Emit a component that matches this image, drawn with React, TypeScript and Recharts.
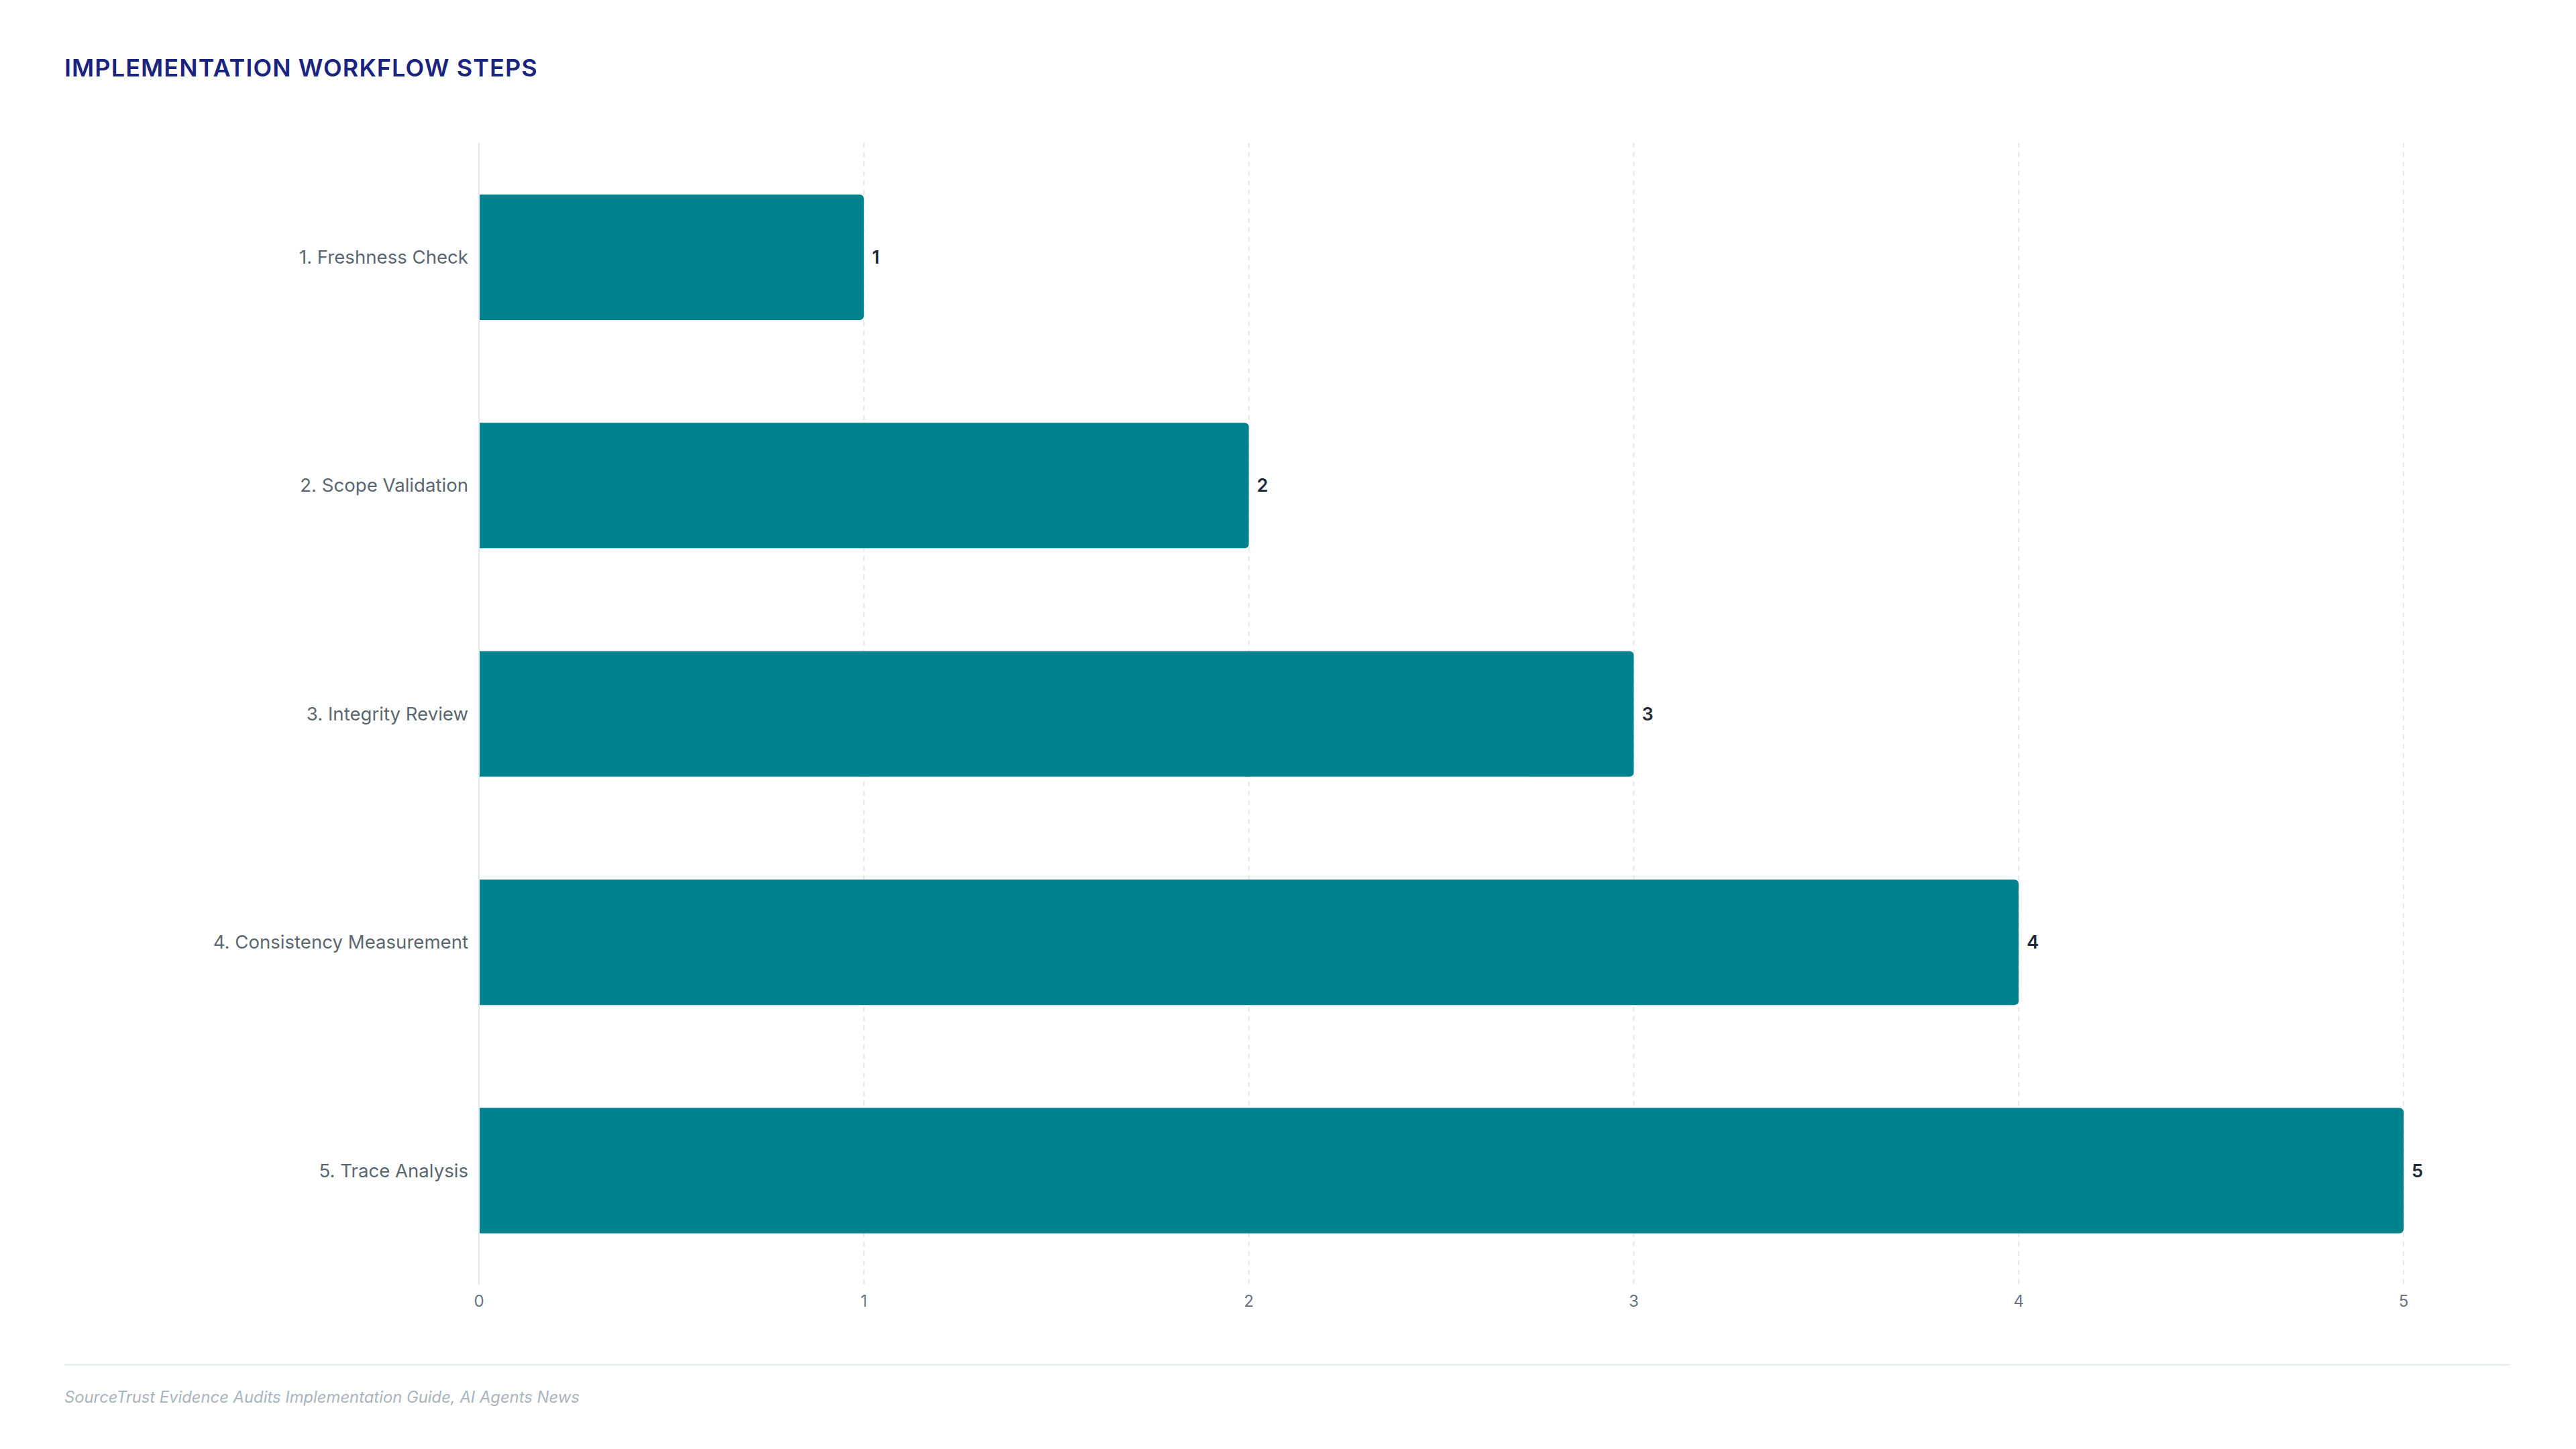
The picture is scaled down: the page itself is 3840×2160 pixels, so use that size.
import { Bar, BarChart, CartesianGrid, LabelList, XAxis, YAxis } from 'recharts';

const steps = [
  '1. Freshness Check',
  '2. Scope Validation',
  '3. Integrity Review',
  '4. Consistency Measurement',
  '5. Trace Analysis',
];
const stepValues = [1, 2, 3, 4, 5];
const xTicks = [0, 1, 2, 3, 4, 5];

const data = steps.map((step, i) => ({ step, value: stepValues[i] }));

const FONT = 'Inter, "Noto Sans", sans-serif';

export default function App() {
  return (
    <div
      style={{
        position: 'absolute',
        left: 0,
        top: 0,
        width: 3840,
        height: 2160,
        background: '#ffffff',
        fontFamily: FONT,
        overflow: 'hidden',
      }}
    >
      <div
        style={{
          position: 'absolute',
          left: 96,
          top: 83,
          fontSize: 36,
          lineHeight: 1,
          fontWeight: 600,
          color: '#1a237e',
          letterSpacing: 1.1,
        }}
      >
        IMPLEMENTATION WORKFLOW STEPS
      </div>

      <div style={{ position: 'absolute', left: 0, top: 0 }}>
        <BarChart
          width={3840}
          height={1975}
          data={data}
          layout="vertical"
          margin={{ top: 213, right: 257, bottom: 0, left: 0 }}
          barCategoryGap="22.6%"
        >
          <CartesianGrid
            horizontal={false}
            stroke="#e5e7eb"
            strokeWidth={2}
            strokeDasharray="7 7"
          />
          <XAxis
            type="number"
            domain={[0, 5]}
            ticks={xTicks}
            height={60}
            axisLine={false}
            tickLine={false}
            tickMargin={10}
            tick={{ fill: '#6b7280', fontSize: 24, fontFamily: FONT }}
          />
          <YAxis
            type="category"
            dataKey="step"
            width={714}
            axisLine={{ stroke: '#e5e7eb', strokeWidth: 2 }}
            tickLine={false}
            tickMargin={10}
            tick={{ fill: '#5b6770', fontSize: 27.6, fontFamily: FONT }}
          />
          <Bar dataKey="value" fill="#00838f" radius={[0, 6, 6, 0]} isAnimationActive={false}>
            <LabelList
              dataKey="value"
              position="right"
              offset={12}
              fill="#1f2937"
              fontSize={27}
              fontWeight={600}
              fontFamily={FONT}
            />
          </Bar>
        </BarChart>
      </div>

      <div
        style={{
          position: 'absolute',
          left: 96,
          top: 2033,
          width: 3646,
          height: 3,
          background: '#eceef1',
        }}
      />

      <div
        style={{
          position: 'absolute',
          left: 96,
          top: 2071,
          fontSize: 23.8,
          lineHeight: 1,
          fontStyle: 'italic',
          color: '#aab4bc',
        }}
      >
        SourceTrust Evidence Audits Implementation Guide, AI Agents News
      </div>
    </div>
  );
}
